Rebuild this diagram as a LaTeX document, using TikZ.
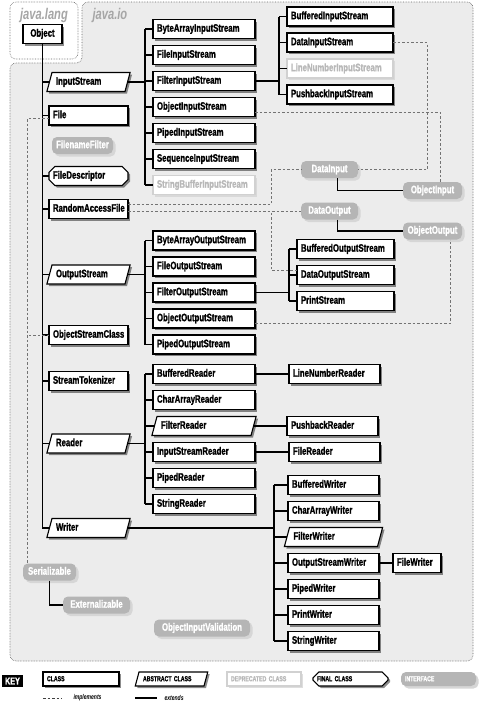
\documentclass[tikz,border=0pt]{standalone}
\usepackage{fontspec}
\newfontfamily\iofont[FakeStretch=0.72, BoldFeatures={FakeBold=1.2}]{Liberation Sans}
\usetikzlibrary{positioning, shapes.geometric, shapes.misc, shadows}
\definecolor{iobg}{gray}{0.925}
\definecolor{ifill}{gray}{0.71}
\definecolor{ishade}{gray}{0.84}
\definecolor{dotgray}{gray}{0.4}
\definecolor{deptext}{gray}{0.72}
\definecolor{depline}{gray}{0.82}
\definecolor{implgray}{gray}{0.45}
\tikzset{
  clsbox/.style={draw, fill=white, line width=1.1pt, outer sep=0pt, minimum height=19pt,
    inner ysep=0pt, text height=7.6pt, text depth=2.2pt, align=left},
  boxshadow/.style={drop shadow={shadow xshift=2pt, shadow yshift=-2pt, fill=black, opacity=0.45}},
  cls/.style={clsbox, boxshadow, rectangle, inner xsep=4pt, text width=#1, anchor=west},
  depcls/.style={clsbox, rectangle, inner xsep=4pt, text width=#1, anchor=west, draw=depline, text=deptext,
    drop shadow={shadow xshift=2pt, shadow yshift=-2pt, fill=depline, opacity=0.7}},
  abscls/.style={clsbox, boxshadow, trapezium, trapezium left angle=75, trapezium right angle=105,
    inner xsep=4pt, inner ysep=4.6pt, text width=#1},
  fincls/.style={clsbox, boxshadow, chamfered rectangle, chamfered rectangle xsep=3pt,
    inner xsep=1pt, text width=#1, anchor=west},
  iface/.style={rectangle, rounded corners=5pt, fill=ifill, text=white, outer sep=0pt,
    minimum height=17pt, minimum width=#1, inner sep=0pt, text height=7.6pt, text depth=2.2pt,
    drop shadow={shadow xshift=2.5pt, shadow yshift=-2.5pt, fill=ishade, opacity=1}},
  keybox/.style={minimum height=14pt, text height=5.2pt, text depth=0.8pt, inner ysep=0pt,
    font=\iofont\bfseries\fontsize{7.2}{8}\selectfont},
  keynote/.style={font=\iofont\bfseries\itshape\fontsize{7}{8}\selectfont},
  ext/.style={line width=1.1pt},
  impl/.style={draw=implgray, line width=0.7pt, dash pattern=on 2.5pt off 2pt},
  pkgbox/.style={draw=dotgray, line width=0.6pt, densely dotted, rounded corners=6pt},
  pkg/.style={text=gray!70, font=\iofont\bfseries\itshape\fontsize{15.5}{17}\selectfont}
}
\begin{document}
\begin{tikzpicture}[x=1pt, y=-1pt, font=\iofont\bfseries\fontsize{10.8}{12}\selectfont]
\useasboundingbox (0,0) rectangle (481,707);
\fill[white] (0,0) rectangle (481,707);
\draw[pkgbox, fill=iobg] (82,2) -- (473,2) -- (473,661) -- (10,661) -- (10,63) -- (82,63) -- cycle;
\draw[pkgbox, fill=white] (10,2) rectangle (78,59);
\node[pkg] (javalang) at (44,15) {java.lang};
\node[pkg, anchor=west] (javaio) at (89,15) {java.io};

\node[cls=31pt, align=center] (Object) at (23,34) {Object};
\node[abscls=65pt] (InputStream) at (88.5,82) {InputStream};
\node[cls=71pt] (File) at (49,115.5) {File};
\node[iface=61pt] (FilenameFilter) at (82.5,145.5) {FilenameFilter};
\node[fincls=71pt] (FileDescriptor) at (49,176) {FileDescriptor};
\node[cls=71pt] (RandomAccessFile) at (49,209) {RandomAccessFile};
\node[abscls=65pt] (OutputStream) at (88.5,274.5) {OutputStream};
\node[cls=71pt] (ObjectStreamClass) at (49,335) {ObjectStreamClass};
\node[cls=71pt] (StreamTokenizer) at (49,381) {StreamTokenizer};
\node[abscls=65pt] (Reader) at (88.5,443.5) {Reader};
\node[abscls=65pt] (Writer) at (88.5,528) {Writer};

\node[cls=94pt] (ByteArrayInputStream) at (153,29) {ByteArrayInputStream};
\node[cls=94pt, below=7pt of ByteArrayInputStream] (FileInputStream) {FileInputStream};
\node[cls=94pt, below=7pt of FileInputStream] (FilterInputStream) {FilterInputStream};
\node[cls=94pt, below=7pt of FilterInputStream] (ObjectInputStream) {ObjectInputStream};
\node[cls=94pt, below=7pt of ObjectInputStream] (PipedInputStream) {PipedInputStream};
\node[cls=94pt, below=7pt of PipedInputStream] (SequenceInputStream) {SequenceInputStream};
\node[depcls=94pt, below=7pt of SequenceInputStream] (StringBufferInputStream) {StringBufferInputStream};

\node[cls=98pt] (BufferedInputStream) at (287,16.5) {BufferedInputStream};
\node[cls=98pt, below=7pt of BufferedInputStream] (DataInputStream) {DataInputStream};
\node[depcls=98pt, below=7pt of DataInputStream] (LineNumberInputStream) {LineNumberInputStream};
\node[cls=98pt, below=7pt of LineNumberInputStream] (PushbackInputStream) {PushbackInputStream};

\node[iface=57pt] (DataInput) at (329.5,169.5) {DataInput};
\node[iface=59pt] (ObjectInput) at (432.5,190.5) {ObjectInput};
\node[iface=57pt] (DataOutput) at (329.5,211) {DataOutput};
\node[iface=59pt] (ObjectOutput) at (432.5,231) {ObjectOutput};

\node[cls=94pt] (ByteArrayOutputStream) at (153,240.5) {ByteArrayOutputStream};
\node[cls=94pt, below=7pt of ByteArrayOutputStream] (FileOutputStream) {FileOutputStream};
\node[cls=94pt, below=7pt of FileOutputStream] (FilterOutputStream) {FilterOutputStream};
\node[cls=94pt, below=7pt of FilterOutputStream] (ObjectOutputStream) {ObjectOutputStream};
\node[cls=94pt, below=7pt of ObjectOutputStream] (PipedOutputStream) {PipedOutputStream};

\node[cls=89pt] (BufferedOutputStream) at (297,249) {BufferedOutputStream};
\node[cls=89pt, below=7pt of BufferedOutputStream] (DataOutputStream) {DataOutputStream};
\node[cls=89pt, below=7pt of DataOutputStream] (PrintStream) {PrintStream};

\node[cls=94pt] (BufferedReader) at (153,374) {BufferedReader};
\node[cls=94pt, below=7pt of BufferedReader] (CharArrayReader) {CharArrayReader};
\node[abscls=86pt, below=7pt of CharArrayReader] (FilterReader) {FilterReader};
\node[cls=94pt, below=7pt of FilterReader] (InputStreamReader) {InputStreamReader};
\node[cls=94pt, below=7pt of InputStreamReader] (PipedReader) {PipedReader};
\node[cls=94pt, below=7pt of PipedReader] (StringReader) {StringReader};

\node[cls=83pt, right=34pt of BufferedReader] (LineNumberReader) {LineNumberReader};
\node[cls=83pt, right=33.5pt of FilterReader] (PushbackReader) {PushbackReader};
\node[cls=83pt, right=34pt of InputStreamReader] (FileReader) {FileReader};

\node[cls=83pt] (BufferedWriter) at (288,485) {BufferedWriter};
\node[cls=83pt, below=7pt of BufferedWriter] (CharArrayWriter) {CharArrayWriter};
\node[abscls=80pt, below=7pt of CharArrayWriter] (FilterWriter) {FilterWriter};
\node[cls=83pt, below=7pt of FilterWriter] (OutputStreamWriter) {OutputStreamWriter};
\node[cls=83pt, below=7pt of OutputStreamWriter] (PipedWriter) {PipedWriter};
\node[cls=83pt, below=7pt of PipedWriter] (PrintWriter) {PrintWriter};
\node[cls=83pt, below=7pt of PrintWriter] (StringWriter) {StringWriter};
\node[cls=40pt, right=14pt of OutputStreamWriter] (FileWriter) {FileWriter};

\node[iface=53pt] (Serializable) at (49.5,572) {Serializable};
\node[iface=67pt] (Externalizable) at (96.5,605) {Externalizable};
\node[iface=96pt] (ObjectInputValidation) at (202,628) {ObjectInputValidation};

\coordinate (isbar) at (145,0);
\coordinate (fisbar) at (279,0);
\coordinate (fosbar) at (289,0);
\coordinate (wrbar) at (274,0);
\coordinate (dibar) at (427,0);
\coordinate (oibar) at (440,0);
\coordinate (oobar) at (450,0);
\coordinate (rabar) at (271,0);
\coordinate (serbar) at (27,0);

\draw[ext] (Object.south) -- (Object.south |- Writer.west) -- (Writer.west)
  (Object.south |- InputStream.west) -- (InputStream.west)
  (Object.south |- File.west) -- (File.west)
  (Object.south |- FileDescriptor.west) -- (FileDescriptor.west)
  (Object.south |- RandomAccessFile.west) -- (RandomAccessFile.west)
  (Object.south |- OutputStream.west) -- (OutputStream.west)
  (Object.south |- ObjectStreamClass.west) -- (ObjectStreamClass.west)
  (Object.south |- StreamTokenizer.west) -- (StreamTokenizer.west)
  (Object.south |- Reader.west) -- (Reader.west);

\draw[ext] (InputStream.east) -- (isbar |- InputStream.east)
  (isbar |- ByteArrayInputStream.west) -- (isbar |- StringBufferInputStream.west)
  (isbar |- ByteArrayInputStream.west) -- (ByteArrayInputStream.west)
  (isbar |- FileInputStream.west) -- (FileInputStream.west)
  (isbar |- FilterInputStream.west) -- (FilterInputStream.west)
  (isbar |- ObjectInputStream.west) -- (ObjectInputStream.west)
  (isbar |- PipedInputStream.west) -- (PipedInputStream.west)
  (isbar |- SequenceInputStream.west) -- (SequenceInputStream.west)
  (isbar |- StringBufferInputStream.west) -- (StringBufferInputStream.west);

\draw[ext] (FilterInputStream.east) -- (fisbar |- FilterInputStream.east)
  (fisbar |- BufferedInputStream.west) -- (fisbar |- PushbackInputStream.west)
  (fisbar |- BufferedInputStream.west) -- (BufferedInputStream.west)
  (fisbar |- DataInputStream.west) -- (DataInputStream.west)
  (fisbar |- LineNumberInputStream.west) -- (LineNumberInputStream.west)
  (fisbar |- PushbackInputStream.west) -- (PushbackInputStream.west);

\draw[ext] (OutputStream.east) -- (isbar |- OutputStream.east)
  (isbar |- ByteArrayOutputStream.west) -- (isbar |- PipedOutputStream.west)
  (isbar |- ByteArrayOutputStream.west) -- (ByteArrayOutputStream.west)
  (isbar |- FileOutputStream.west) -- (FileOutputStream.west)
  (isbar |- FilterOutputStream.west) -- (FilterOutputStream.west)
  (isbar |- ObjectOutputStream.west) -- (ObjectOutputStream.west)
  (isbar |- PipedOutputStream.west) -- (PipedOutputStream.west);

\draw[ext] (FilterOutputStream.east) -- (fosbar |- FilterOutputStream.east)
  (fosbar |- BufferedOutputStream.west) -- (fosbar |- PrintStream.west)
  (fosbar |- BufferedOutputStream.west) -- (BufferedOutputStream.west)
  (fosbar |- DataOutputStream.west) -- (DataOutputStream.west)
  (fosbar |- PrintStream.west) -- (PrintStream.west);

\draw[ext] (Reader.east) -- (isbar |- Reader.east)
  (isbar |- BufferedReader.west) -- (isbar |- StringReader.west)
  (isbar |- BufferedReader.west) -- (BufferedReader.west)
  (isbar |- CharArrayReader.west) -- (CharArrayReader.west)
  (isbar |- FilterReader.west) -- (FilterReader.west)
  (isbar |- InputStreamReader.west) -- (InputStreamReader.west)
  (isbar |- PipedReader.west) -- (PipedReader.west)
  (isbar |- StringReader.west) -- (StringReader.west);
\draw[ext] (BufferedReader.east) -- (LineNumberReader.west);
\draw[ext] (FilterReader.east) -- (PushbackReader.west);
\draw[ext] (InputStreamReader.east) -- (FileReader.west);

\draw[ext] (Writer.east) -- (wrbar |- Writer.east)
  (wrbar |- BufferedWriter.west) -- (wrbar |- StringWriter.west)
  (wrbar |- BufferedWriter.west) -- (BufferedWriter.west)
  (wrbar |- CharArrayWriter.west) -- (CharArrayWriter.west)
  (wrbar |- FilterWriter.west) -- (FilterWriter.west)
  (wrbar |- OutputStreamWriter.west) -- (OutputStreamWriter.west)
  (wrbar |- PipedWriter.west) -- (PipedWriter.west)
  (wrbar |- PrintWriter.west) -- (PrintWriter.west)
  (wrbar |- StringWriter.west) -- (StringWriter.west);
\draw[ext] (OutputStreamWriter.east) -- (FileWriter.west);

\draw[ext] ([xshift=8pt]DataInput.south) |- (ObjectInput.west);
\draw[ext] ([xshift=8pt]DataOutput.south) |- (ObjectOutput.west);
\draw[ext] (Serializable.south) |- (Externalizable.west);

\draw[impl] (DataInputStream.east) -| (dibar |- DataInput.east) -- (DataInput.east);
\draw[impl] ([yshift=-5pt]ObjectInputStream.east) -| (oibar |- ObjectInput.north);
\draw[impl] ([yshift=5pt]RandomAccessFile.east) -| (rabar |- DataInput.west) -- (DataInput.west);
\draw[impl] (RandomAccessFile.east |- DataOutput.west) -- (DataOutput.west);
\draw[impl] ([yshift=5pt]DataOutputStream.west) -| (rabar |- DataOutput.west);
\draw[impl] ([yshift=-5pt]ObjectOutputStream.east) -| (oobar |- ObjectOutput.south);
\draw[impl] ([yshift=-3pt]File.west) -| (serbar |- Serializable.north);
\draw[impl] (ObjectStreamClass.west) -- (serbar |- ObjectStreamClass.west);

\node[fill=black, text=white, minimum width=21pt, minimum height=12pt, inner sep=0pt,
  font=\iofont\bfseries\fontsize{10}{11}\selectfont] (keyLabel) at (12.5,681) {KEY};
\node[cls=68pt, keybox] (keyClass) at (43,679) {CLASS};
\node[abscls=57pt, keybox, inner ysep=4pt] (keyAbstract) at (171.5,679) {ABSTRACT CLASS};
\node[depcls=66pt, keybox] (keyDeprecated) at (227,679) {DEPRECATED CLASS};
\node[fincls=67pt, keybox] (keyFinal) at (313,679) {FINAL CLASS};
\node[iface=75pt, keybox, text width=67pt, align=left] (keyInterface) at (438.5,679) {INTERFACE};
\coordinate (implA) at (43,698);
\coordinate (implB) at (62,698);
\draw[impl, draw=black!75] (implA) -- (implB);
\node[keynote, anchor=west] (implText) at (70,698) {implements};
\coordinate (extA) at (135,698);
\coordinate (extB) at (157,698);
\draw[ext] (extA) -- (extB);
\node[keynote, anchor=west] (extText) at (161,698) {extends};
\end{tikzpicture}
\end{document}
